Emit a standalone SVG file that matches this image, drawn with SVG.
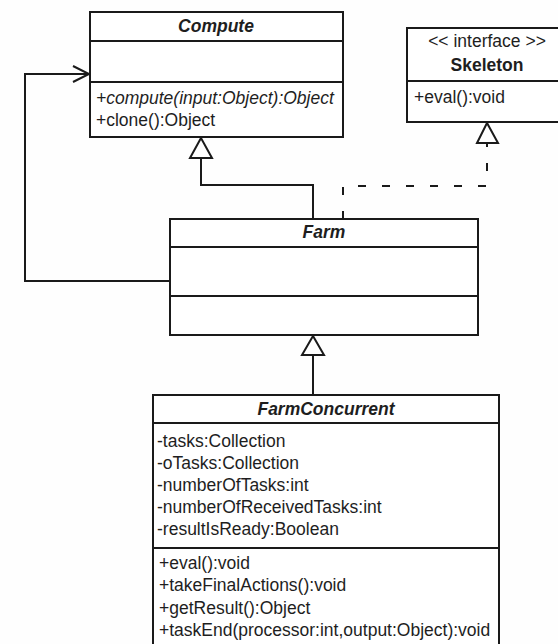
<svg xmlns="http://www.w3.org/2000/svg" width="558" height="644" viewBox="0 0 558 644">
  <style>
    .box { fill: #ffffff; stroke: #1a1a1a; stroke-width: 2; }
    .sep { stroke: #1a1a1a; stroke-width: 2; }
    .edge { fill: none; stroke: #1a1a1a; stroke-width: 2; }
    .dash { stroke-dasharray: 8 16; }
    .head { fill: #ffffff; stroke: #1a1a1a; stroke-width: 2; stroke-linejoin: miter; }
    text { font-family: "Liberation Sans", Arial, sans-serif; font-size: 17.5px; fill: #1e1e1e; }
    .title { font-weight: bold; font-style: italic; text-anchor: middle; }
    .iname { font-weight: bold; text-anchor: middle; }
    .stereo { text-anchor: middle; }
    .abstract { font-style: italic; }
  </style>

  <rect width="558" height="644" fill="#fefefe"/>

  <!-- connectors -->
  <g id="connectors">
    <!-- Farm holds a Compute: association with open arrow -->
    <polyline class="edge" points="170,281 25,281 25,74 88,74"/>
    <polyline class="edge" points="73,66 89,74 73,82"/>
    <!-- Farm extends Compute -->
    <polyline class="edge" points="313,219 313,185 201,185 201,158"/>
    <polygon class="head" points="201,138 190,158 212,158"/>
    <!-- Farm realizes Skeleton -->
    <polyline class="edge dash" points="343,219 343,186 487,186 487,143"/>
    <polygon class="head" points="487,123 477,143 498,143"/>
    <!-- FarmConcurrent extends Farm -->
    <line class="edge" x1="313" y1="395" x2="313" y2="355"/>
    <polygon class="head" points="313,336 302,355 324,355"/>
  </g>

  <!-- Compute -->
  <g id="compute">
    <rect class="box" x="90" y="12" width="253" height="125"/>
    <line class="sep" x1="90" y1="41" x2="343" y2="41"/>
    <line class="sep" x1="90" y1="82" x2="343" y2="82"/>
    <text class="title" x="216" y="32">Compute</text>
    <text class="abstract" x="96" y="104">+compute(input:Object):Object</text>
    <text x="96" y="126">+clone():Object</text>
  </g>

  <!-- Skeleton -->
  <g id="skeleton">
    <rect class="box" x="407" y="28" width="160" height="94"/>
    <line class="sep" x1="407" y1="81" x2="567" y2="81"/>
    <text class="stereo" x="487" y="47">&lt;&lt; interface &gt;&gt;</text>
    <text class="iname" x="487" y="71">Skeleton</text>
    <text x="414" y="103">+eval():void</text>
  </g>

  <!-- Farm -->
  <g id="farm">
    <rect class="box" x="170" y="219" width="308" height="116"/>
    <line class="sep" x1="170" y1="247" x2="478" y2="247"/>
    <line class="sep" x1="170" y1="296" x2="478" y2="296"/>
    <text class="title" x="324" y="238">Farm</text>
  </g>

  <!-- FarmConcurrent -->
  <g id="farmconcurrent">
    <rect class="box" x="153" y="395" width="346" height="270"/>
    <line class="sep" x1="153" y1="423" x2="499" y2="423"/>
    <line class="sep" x1="153" y1="548" x2="499" y2="548"/>
    <text class="title" x="326" y="415">FarmConcurrent</text>
    <text x="157" y="447">-tasks:Collection</text>
    <text x="157" y="469">-oTasks:Collection</text>
    <text x="157" y="491">-numberOfTasks:int</text>
    <text x="157" y="513">-numberOfReceivedTasks:int</text>
    <text x="157" y="535">-resultIsReady:Boolean</text>
    <text x="159" y="569">+eval():void</text>
    <text x="159" y="591">+takeFinalActions():void</text>
    <text x="159" y="614">+getResult():Object</text>
    <text x="159" y="636">+taskEnd(processor:int,output:Object):void</text>
  </g>
</svg>
